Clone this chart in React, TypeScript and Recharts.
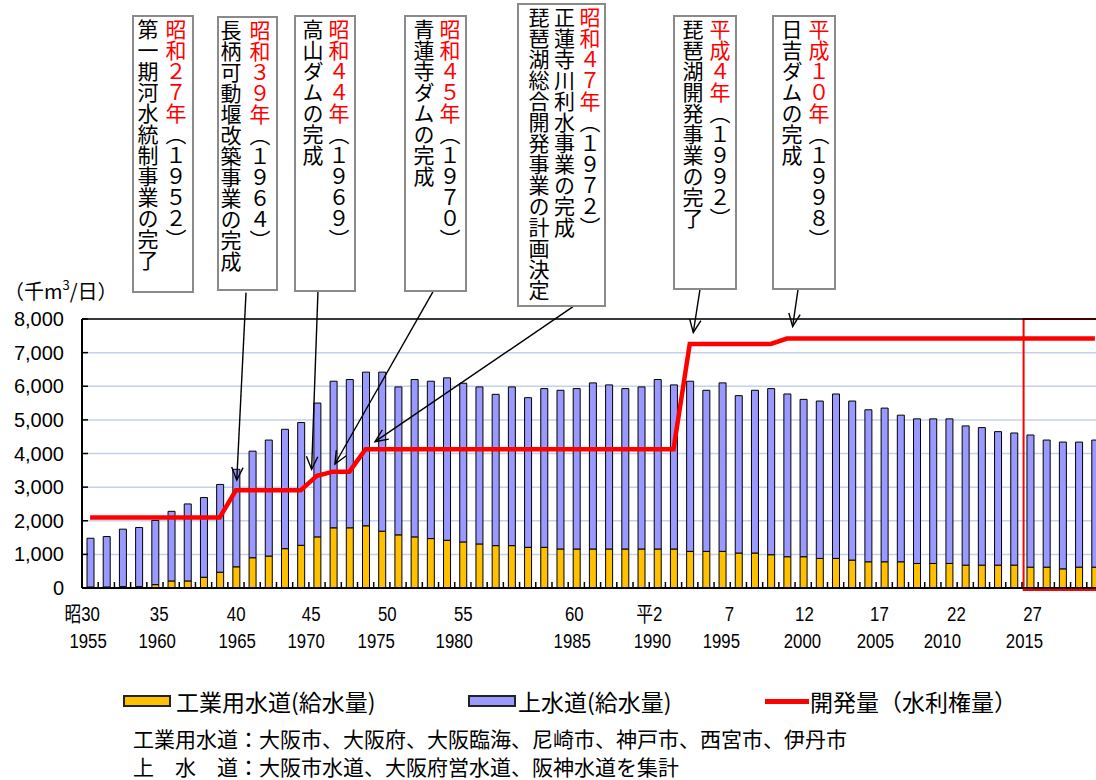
import React from 'react';
import {
  ComposedChart,
  Bar,
  Line,
  XAxis,
  YAxis,
  CartesianGrid,
  ReferenceLine,
  ReferenceArea,
} from 'recharts';

// 年度（昭和30年〜平成29年）
const YEARS = [
  1955, 1956, 1957, 1958, 1959, 1960, 1961, 1962, 1963, 1964,
  1965, 1966, 1967, 1968, 1969, 1970, 1971, 1972, 1973, 1974,
  1975, 1976, 1977, 1978, 1979, 1980, 1981, 1982, 1983, 1984,
  1985, 1986, 1987, 1988, 1989, 1990, 1991, 1992, 1993, 1994,
  1995, 1996, 1997, 1998, 1999, 2000, 2001, 2002, 2003, 2004,
  2005, 2006, 2007, 2008, 2009, 2010, 2011, 2012, 2013, 2014,
  2015, 2016, 2017,
];

// 工業用水道（給水量） 千m3/日
const INDUSTRIAL = [
  30, 30, 40, 40, 100, 210, 210, 320, 470, 630,
  900, 950, 1170, 1270, 1520, 1790, 1790, 1850, 1690, 1580,
  1520, 1470, 1420, 1370, 1310, 1260, 1260, 1210, 1210, 1160,
  1160, 1160, 1160, 1160, 1160, 1160, 1160, 1090, 1090, 1090,
  1040, 1040, 990, 930, 930, 880, 880, 830, 780, 780,
  780, 730, 730, 730, 680, 680, 680, 680, 620, 620,
  570, 620, 620,
];

// 上水道（給水量） 千m3/日
const WATERWORKS = [
  1450, 1500, 1710, 1760, 1910, 2070, 2290, 2370, 2610, 2900,
  3170, 3450, 3550, 3650, 3980, 4360, 4410, 4570, 4730, 4400,
  4680, 4680, 4830, 4720, 4670, 4500, 4720, 4450, 4720, 4720,
  4770, 4940, 4880, 4770, 4820, 5040, 4880, 5060, 4790, 5010,
  4680, 4840, 4940, 4840, 4680, 4680, 4890, 4730, 4520, 4570,
  4360, 4300, 4300, 4300, 4140, 4090, 3970, 3930, 3930, 3780,
  3770, 3720, 3780,
];

// 開発量（水利権量） 千m3/日
const DEVELOPMENT = [
  2100, 2100, 2100, 2100, 2100, 2100, 2100, 2100, 2100, 2910,
  2910, 2910, 2910, 2910, 3340, 3460, 3460, 4130, 4130, 4130,
  4130, 4130, 4130, 4130, 4130, 4130, 4130, 4130, 4130, 4130,
  4130, 4130, 4130, 4130, 4130, 4130, 4130, 7260, 7260, 7260,
  7260, 7260, 7260, 7420, 7420, 7420, 7420, 7420, 7420, 7420,
  7420, 7420, 7420, 7420, 7420, 7420, 7420, 7420, 7420, 7420,
  7420, 7420, 7420,
];

const Y_TICKS = [0, 1000, 2000, 3000, 4000, 5000, 6000, 7000, 8000];

// 軸ラベル（和暦／西暦）
const LABEL_YEARS = [1955, 1960, 1965, 1970, 1975, 1980, 1985, 1990, 1995, 2000, 2005, 2010, 2015];
const ERA_LABELS = ['昭30', '35', '40', '45', '50', '55', '60', '平2', '7', '12', '17', '22', '27'];
// テキストボックスの位置ずれ（px）
const ERA_DX = [-8, -12, -16, -22, -27, -32, -2, -8, -9, -15, -21, -25, -30];
const AD_DX = [-2, -14, -15, -27, -38, -41, -4, -5, -17, -17, -25, -39, -38];

// 矢印 [始点年, 始点値, 終点年, 終点値]
const ARROWS = [
  [1964.62, 8784, 1964.05, 3210],
  [1969.06, 8814, 1968.67, 3529],
  [1976.16, 8814, 1970.11, 3687],
  [1984.8, 8366, 1972.58, 4352],
  [1992.63, 8873, 1992.22, 7600],
  [1998.68, 8873, 1998.35, 7779],
];

const HIGHLIGHT = { from: 2012.6, to: 2018.5 };

type Seg = { t: string; red?: boolean };
const BOXES: { left: number; top: number; w: number; h: number; lh: number; cols: Seg[][] }[] = [
  { left: 132, top: 15, w: 62, h: 278, lh: 28, cols: [[{ t: '昭和２７年', red: true }, { t: '（１９５２）' }], [{ t: '第一期河水統制事業の完了' }]] },
  { left: 217, top: 16, w: 61, h: 275, lh: 29, cols: [[{ t: '昭和３９年', red: true }, { t: '（１９６４）' }], [{ t: '長柄可動堰改築事業の完成' }]] },
  { left: 294, top: 15, w: 62, h: 277, lh: 26, cols: [[{ t: '昭和４４年', red: true }, { t: '（１９６９）' }], [{ t: '高山ダムの完成' }]] },
  { left: 404, top: 15, w: 63, h: 277, lh: 26, cols: [[{ t: '昭和４５年', red: true }, { t: '（１９７０）' }], [{ t: '青蓮寺ダムの完成' }]] },
  { left: 517, top: 3, w: 89, h: 304, lh: 25.5, cols: [[{ t: '昭和４７年', red: true }, { t: '（１９７２）' }], [{ t: '正蓮寺川利水事業の完成' }], [{ t: '琵琶湖総合開発事業の計画決定' }]] },
  { left: 673, top: 15, w: 64, h: 275, lh: 27, cols: [[{ t: '平成４年', red: true }, { t: '（１９９２）' }], [{ t: '琵琶湖開発事業の完了' }]] },
  { left: 772, top: 15, w: 64, h: 275, lh: 27, cols: [[{ t: '平成１０年', red: true }, { t: '（１９９８）' }], [{ t: '日吉ダムの完成' }]] },
];

const data = YEARS.map((year, i) => ({
  year,
  ind: INDUSTRIAL[i],
  ww: WATERWORKS[i],
  dev: DEVELOPMENT[i],
}));

const BOUNDS = [...YEARS.map((y) => y - 0.5), YEARS[YEARS.length - 1] + 0.5];

const JP = '"Noto Sans CJK JP", "Noto Sans", sans-serif';
const TICK_FONT = '"Liberation Sans", "Noto Sans CJK JP", sans-serif';

const YearTick = (props: any) => {
  const { x, y, index } = props;
  return (
    <g>
      <g transform={`translate(${x + ERA_DX[index]},${y + 32}) scale(0.8,1)`}>
        <text textAnchor="middle" fontSize={21} fontFamily={TICK_FONT} fill="#000">
          {ERA_LABELS[index]}
        </text>
      </g>
      <g transform={`translate(${x + AD_DX[index]},${y + 59}) scale(0.8,1)`}>
        <text textAnchor="middle" fontSize={21} fontFamily={TICK_FONT} fill="#000">
          {LABEL_YEARS[index]}
        </text>
      </g>
    </g>
  );
};

const ArrowShape = (props: any) => {
  const { x1, y1, x2, y2 } = props;
  const ang = Math.atan2(y2 - y1, x2 - x1);
  const L = 14;
  const a = 0.42;
  const ax = x2 - L * Math.cos(ang - a);
  const ay = y2 - L * Math.sin(ang - a);
  const bx = x2 - L * Math.cos(ang + a);
  const by = y2 - L * Math.sin(ang + a);
  return (
    <g>
      <line x1={x1} y1={y1} x2={x2} y2={y2} stroke="#000" strokeWidth={1.4} />
      <polyline points={`${ax},${ay} ${x2},${y2} ${bx},${by}`} fill="none" stroke="#000" strokeWidth={1.4} />
    </g>
  );
};

function NoteBox({ box }: { box: (typeof BOXES)[number] }) {
  return (
    <div
      style={{
        position: 'absolute',
        left: box.left,
        top: box.top,
        width: box.w,
        height: box.h,
        boxSizing: 'border-box',
        border: '2px solid #8a8a8a',
        background: '#fff',
        writingMode: 'vertical-rl',
        padding: '2px 2px 0 0',
        fontFamily: JP,
        fontSize: 21,
        lineHeight: `${box.lh}px`,
        color: '#000',
      }}
    >
      {box.cols.map((col, ci) => (
        <div key={ci}>
          {col.map((s, si) => (
            <span key={si} style={{ color: s.red ? '#ff0000' : '#000' }}>
              {s.t}
            </span>
          ))}
        </div>
      ))}
    </div>
  );
}

export default function App() {
  return (
    <div
      style={{
        position: 'absolute',
        left: 0,
        top: 0,
        width: 1096,
        height: 780,
        overflow: 'hidden',
        background: '#fff',
        fontFamily: JP,
      }}
    >
      <div style={{ position: 'absolute', left: 0, top: 0 }}>
        <ComposedChart
          width={1110}
          height={780}
          data={data}
          margin={{ top: 319, right: 7, bottom: 131, left: 0 }}
        >
          <CartesianGrid vertical={false} stroke="#c3d2ea" strokeWidth={1.5} />
          <XAxis
            dataKey="year"
            type="number"
            domain={[1954.5, 2017.5]}
            ticks={BOUNDS}
            interval={0}
            allowDataOverflow
            height={1}
            tick={() => null}
            tickSize={-6}
            tickMargin={0}
            axisLine={{ stroke: '#000', strokeWidth: 2 }}
            tickLine={{ stroke: '#000', strokeWidth: 1.5 }}
          />
          <XAxis
            xAxisId="lbl"
            dataKey="year"
            type="number"
            domain={[1954.5, 2017.5]}
            ticks={LABEL_YEARS}
            interval={0}
            allowDataOverflow
            height={60}
            tick={<YearTick />}
            tickSize={0}
            tickMargin={0}
            tickLine={false}
            axisLine={false}
          />
          <YAxis
            domain={[0, 8000]}
            ticks={Y_TICKS}
            interval={0}
            allowDataOverflow
            width={82}
            tickSize={-6}
            tickMargin={24}
            axisLine={{ stroke: '#000', strokeWidth: 2 }}
            tickLine={{ stroke: '#000', strokeWidth: 1.5 }}
            tick={{ fill: '#000', fontSize: 20, fontFamily: '"Liberation Sans", Arial, sans-serif' }}
            tickFormatter={(v: number) => v.toLocaleString('en-US')}
          />
          <ReferenceLine y={8000} stroke="#000" strokeWidth={1.5} />
          <Bar dataKey="ind" stackId="s" fill="#ffc000" stroke="#000" strokeWidth={1} barSize={7} isAnimationActive={false} />
          <Bar dataKey="ww" stackId="s" fill="#9999ff" stroke="#000" strokeWidth={1} barSize={7} isAnimationActive={false} />
          <Line
            dataKey="dev"
            type="linear"
            stroke="#ff0000"
            strokeWidth={4.5}
            dot={false}
            activeDot={false}
            isAnimationActive={false}
          />
          <ReferenceArea
            x1={HIGHLIGHT.from}
            x2={HIGHLIGHT.to}
            y1={-60}
            y2={8000}
            ifOverflow="visible"
            fill="none"
            fillOpacity={0}
            stroke="#ff0000"
            strokeWidth={2}
          />
          {ARROWS.map((a, i) => (
            <ReferenceLine
              key={i}
              segment={[
                { x: a[0], y: a[1] },
                { x: a[2], y: a[3] },
              ]}
              ifOverflow="visible"
              shape={ArrowShape}
            />
          ))}
        </ComposedChart>
      </div>

      {BOXES.map((b, i) => (
        <NoteBox key={i} box={b} />
      ))}

      <div style={{ position: 'absolute', left: 4, top: 278, fontSize: 20, lineHeight: '26px', color: '#000', whiteSpace: 'nowrap' }}>
        （千m<sup style={{ fontSize: 13, verticalAlign: 'top', lineHeight: '14px' }}>3</sup>/日）
      </div>

      {/* 凡例 */}
      <div style={{ position: 'absolute', left: 123, top: 695, width: 48, height: 12, boxSizing: 'border-box', border: '2px solid #222', background: '#ffc000' }} />
      <div style={{ position: 'absolute', left: 176, top: 687, fontSize: 23, lineHeight: '28px', color: '#000' }}>工業用水道(給水量)</div>
      <div style={{ position: 'absolute', left: 468, top: 695, width: 48, height: 12, boxSizing: 'border-box', border: '2px solid #222', background: '#9999ff' }} />
      <div style={{ position: 'absolute', left: 518, top: 687, fontSize: 23, lineHeight: '28px', color: '#000' }}>上水道(給水量)</div>
      <div style={{ position: 'absolute', left: 765, top: 699, width: 44, height: 5, background: '#ff0000' }} />
      <div style={{ position: 'absolute', left: 810, top: 687, fontSize: 23, lineHeight: '28px', color: '#000', whiteSpace: 'nowrap' }}>開発量（水利権量）</div>

      <div style={{ position: 'absolute', left: 133, top: 725, fontSize: 21, lineHeight: '26px', color: '#000', whiteSpace: 'nowrap' }}>
        工業用水道：大阪市、大阪府、大阪臨海、尼崎市、神戸市、西宮市、伊丹市
      </div>
      <div style={{ position: 'absolute', left: 133, top: 753, fontSize: 21, lineHeight: '26px', color: '#000', whiteSpace: 'nowrap' }}>
        上　水　道：大阪市水道、大阪府営水道、阪神水道を集計
      </div>
    </div>
  );
}
